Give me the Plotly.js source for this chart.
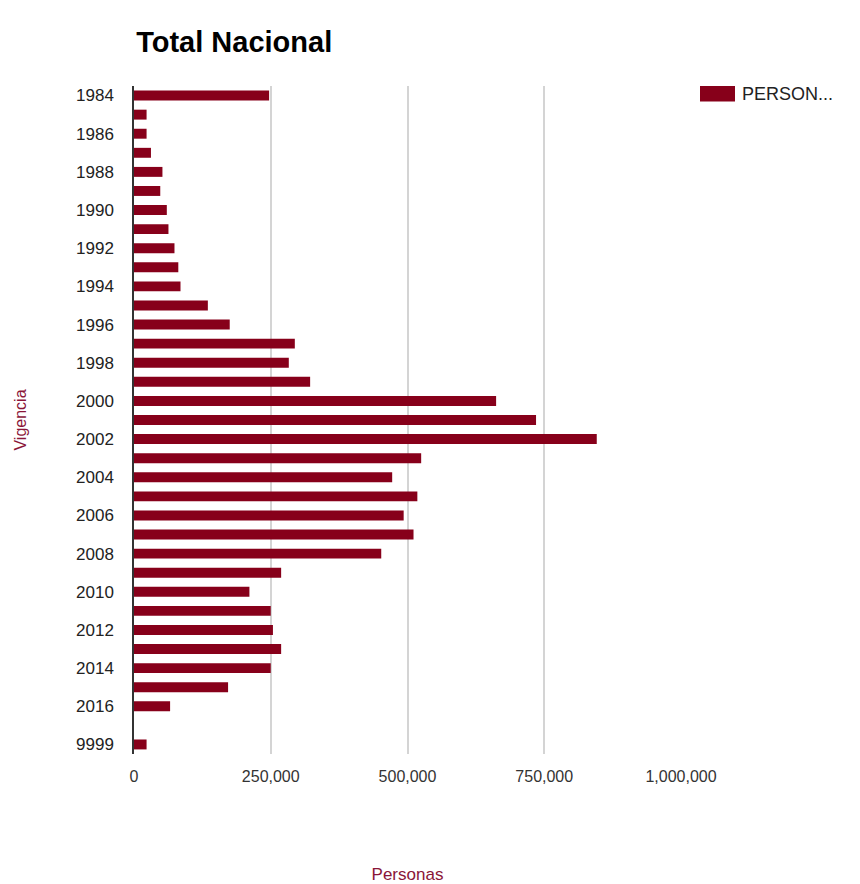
<!DOCTYPE html>
<html>
<head>
<meta charset="utf-8">
<script src="https://cdn.plot.ly/plotly-3.0.1.min.js"></script>
<style>html,body{margin:0;padding:0;background:#fff}#chart{width:860px;height:884px}</style>
</head>
<body>
<div id="chart"></div>
<script>
var years = ["1984","1985","1986","1987","1988","1989","1990","1991","1992","1993","1994","1995","1996","1997","1998","1999","2000","2001","2002","2003","2004","2005","2006","2007","2008","2009","2010","2011","2012","2013","2014","2015","2016","2017","9999"];
var personas = [247000,23000,23000,31000,52000,48000,60000,63000,74000,81000,85000,135000,175000,294000,283000,322000,662000,735000,846000,525000,472000,518000,493000,511000,452000,269000,211000,250000,254000,269000,250000,172000,66000,0,23000];
var yTickLabels = ["1984","1986","1988","1990","1992","1994","1996","1998","2000","2002","2004","2006","2008","2010","2012","2014","2016","9999"];
var xTickVals = [0,250000,500000,750000,1000000];
var xTickText = ["0","250,000","500,000","750,000","1,000,000"];
var seriesName = "PERSON...";

var FONT = "Liberation Sans, Arial, sans-serif";
var BAR = "#87001a";
var TITLECOL = "#8a1538";

var trace = {
  type: "bar",
  orientation: "h",
  y: years,
  x: personas,
  name: seriesName,
  marker: {color: BAR},
  showlegend: false,
  hoverinfo: "x+y"
};

var layout = {
  width: 860,
  height: 884,
  paper_bgcolor: "#fff",
  plot_bgcolor: "#fff",
  margin: {l: 134, r: 179, t: 86, b: 130, pad: 0},
  bargap: 0.48,
  font: {family: FONT, size: 16, color: "#222"},
  title: {
    text: "Total Nacional",
    font: {family: FONT, size: 29, color: "#000", weight: "bold"},
    xref: "paper", x: 0.004, xanchor: "left",
    yref: "container", y: 1 - 42/884, yanchor: "middle"
  },
  xaxis: {
    range: [0, 1000000],
    tickvals: xTickVals,
    ticktext: xTickText,
    showgrid: true,
    gridcolor: "#d4d4d4",
    gridwidth: 2,
    zeroline: false,
    showline: false,
    ticks: "outside",
    ticklen: 8,
    tickcolor: "rgba(0,0,0,0)",
    tickfont: {family: FONT, size: 16, color: "#333"},
    fixedrange: true,
    title: {text: "Personas", font: {family: FONT, size: 17, color: TITLECOL}, standoff: 84}
  },
  yaxis: {
    type: "category",
    categoryorder: "array",
    categoryarray: years,
    autorange: "reversed",
    tickmode: "array",
    tickvals: yTickLabels,
    ticktext: yTickLabels,
    showgrid: false,
    zeroline: false,
    showline: true,
    linecolor: "#333",
    linewidth: 1.5,
    ticks: "outside",
    ticklen: 15,
    tickcolor: "rgba(0,0,0,0)",
    tickfont: {family: FONT, size: 17, color: "#222"},
    fixedrange: true,
    title: {text: "Vigencia", font: {family: FONT, size: 16, color: TITLECOL}, standoff: 45}
  },
  shapes: [{
    type: "rect", xref: "paper", yref: "paper",
    x0: (700-134)/547, x1: (735-134)/547,
    y0: (754-101.5)/668, y1: (754-86)/668,
    fillcolor: BAR, line: {width: 0}
  }],
  annotations: [{
    xref: "paper", yref: "paper",
    x: (740-134)/547, y: (754-94)/668,
    xanchor: "left", yanchor: "middle",
    text: seriesName, showarrow: false,
    font: {family: FONT, size: 18, color: "#222"}
  }]
};

Plotly.newPlot("chart", [trace], layout, {displayModeBar: false, staticPlot: false});
</script>
</body>
</html>
